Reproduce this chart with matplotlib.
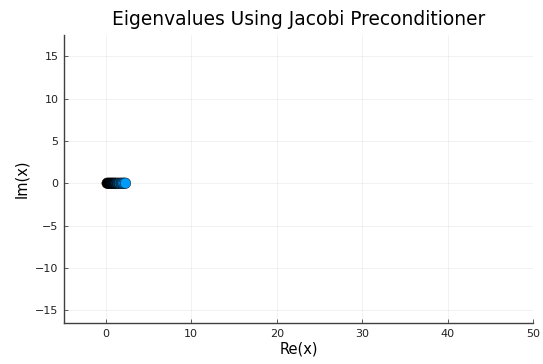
import matplotlib.pyplot as plt
import numpy as np
from matplotlib.colors import LinearSegmentedColormap

eig_re = [0.15, 0.3, 0.45, 0.6, 0.75, 0.9, 1.05, 1.2, 1.4, 1.6, 1.8, 2.0, 2.15, 2.3]
eig_im = [0.0] * len(eig_re)
# colour weight per point (0 = black, 1 = blue)
shade = [0.0, 0.0, 0.02, 0.05, 0.08, 0.12, 0.18, 0.25, 0.35, 0.6, 0.5, 0.85, 0.95, 1.0]

xticks = [0, 10, 20, 30, 40, 50]
yticks = [-15, -10, -5, 0, 5, 10, 15]

cmap = LinearSegmentedColormap.from_list("bk_blue", ["#000000", "#009af9"])

fig = plt.figure(figsize=(5.43, 3.64), dpi=100)
ax = fig.add_axes([64 / 543, 1 - 323 / 364, (533 - 64) / 543, (323 - 35) / 364])

ax.scatter(eig_re, eig_im, c=[cmap(s) for s in shade], s=58, edgecolors="#000000",
           linewidths=0.3, zorder=3)

ax.set_xlim(-4.9, 50)
ax.set_ylim(-16.5, 17.5)
ax.set_xticks(xticks)
ax.set_yticks(yticks)
ax.grid(True, color="#000000", alpha=0.07, linewidth=0.5)

for s in ["top", "right"]:
    ax.spines[s].set_visible(False)
for s in ["left", "bottom"]:
    ax.spines[s].set_color("#404040")
    ax.spines[s].set_linewidth(1.0)
ax.tick_params(direction="in", length=3, width=0.6, color="#404040", labelsize=8,
               labelcolor="#222222", pad=4)

ax.set_title("Eigenvalues Using Jacobi Preconditioner", fontsize=13.4, pad=7)
ax.set_xlabel("Re(x)", fontsize=10.5, labelpad=2)
ax.set_ylabel("Im(x)", fontsize=10.5, labelpad=4)

fig.savefig("out.png", dpi=100)
